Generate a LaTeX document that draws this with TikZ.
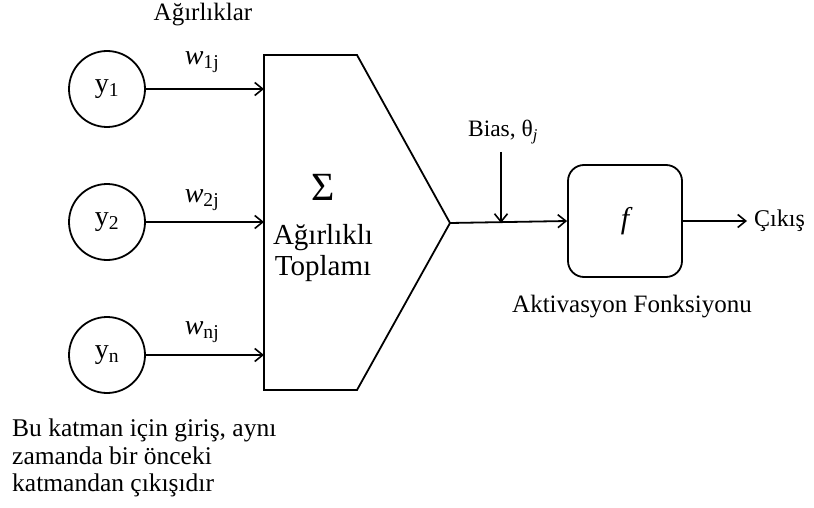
\documentclass[tikz,border=0pt]{standalone}
\usepackage{fontspec}
\setmainfont{Liberation Serif}
\usetikzlibrary{arrows.meta,positioning}

\tikzset{
    neuron/.style={draw, circle, line width=1.8pt, minimum size=76pt, inner sep=0pt, font=\fontsize{28}{32}\selectfont},
    flow/.style={-{Straight Barb[length=8pt,width=13pt,line width=1.6pt]}, line width=1.8pt},
    actbox/.style={draw, rounded corners=16pt, line width=1.8pt, minimum width=114pt, minimum height=112pt, inner sep=0pt},
    lbl/.style={font=\fontsize{25}{29}\selectfont, inner sep=0pt},
}

\begin{document}
\begin{tikzpicture}[x=1pt, y=-1pt]
    \useasboundingbox (0,0) rectangle (814,508);
    % inputs
    \node[neuron] (y1) at (107,89) {y\textsubscript{1}};
    \node[neuron] (y2) at (107,222) {y\textsubscript{2}};
    \node[neuron] (yn) at (107,355) {y\textsubscript{n}};
    % summing block
    \coordinate (snw) at (264,55);
    \coordinate (sne) at (357,55);
    \coordinate (tip) at (450,223);
    \coordinate (sse) at (357,390);
    \coordinate (ssw) at (264,390);
    \draw[line width=1.8pt, line join=miter] (snw) -- (sne) -- (tip) -- (sse) -- (ssw) -- cycle;
    \node[lbl, font=\fontsize{40}{44}\selectfont] (sigma) at (323,187) {Σ};
    \node[lbl, align=center, font=\fontsize{29}{31}\selectfont] (sumtext) at (323,253) {Ağırlıklı\\Toplamı};
    % weighted connections
    \draw[flow] (y1.east) -- (y1.east -| snw);
    \draw[flow] (y2.east) -- (y2.east -| snw);
    \draw[flow] (yn.east) -- (yn.east -| snw);
    \node[lbl, font=\fontsize{28}{32}\selectfont] (w1) at (202,62) {\textit{w}\textsubscript{1j}};
    \node[lbl, font=\fontsize{28}{32}\selectfont] (w2) at (202,200) {\textit{w}\textsubscript{2j}};
    \node[lbl, font=\fontsize{28}{32}\selectfont] (wn) at (202,332) {\textit{w}\textsubscript{nj}};
    \node[lbl] (weights) at (203,15) {Ağırlıklar};
    % activation
    \node[actbox] (act) at (625,221) {};
    \node[lbl, font=\fontsize{30}{34}\selectfont\itshape] (f) at (act) {f};
    \draw[flow] (tip) -- (act.west);
    \coordinate (bias) at (501,152);
    \draw[flow] (bias) -- (bias |- tip);
    \node[lbl, font=\fontsize{23.5}{27}\selectfont] (biastext) at (503,132) {Bias, θ\textsubscript{\textit{j}}};
    \coordinate (out) at (747,221);
    \draw[flow] (act.east) -- (out);
    \node[lbl, anchor=west, font=\fontsize{24}{28}\selectfont] (outtext) at (754,221) {Çıkış};
    \node[lbl] (acttext) at (632,307) {Aktivasyon Fonksiyonu};
    % note below the inputs
    \node[lbl, anchor=north west, align=left, font=\fontsize{25.5}{27.5}\selectfont] (note) at (12,419)
        {Bu katman için giriş, aynı\\zamanda bir önceki\\katmandan çıkışıdır};
\end{tikzpicture}
\end{document}
